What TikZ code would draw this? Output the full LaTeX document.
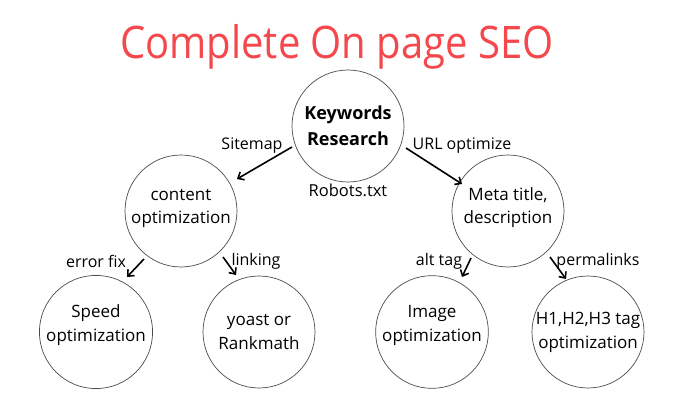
\documentclass[tikz,border=0pt]{standalone}
\usepackage{fontspec}
\setmainfont{Open Sans}
\usetikzlibrary{arrows.meta}
\definecolor{titlered}{RGB}{245,72,76}
\begin{document}
\begin{tikzpicture}[x=1pt,y=-1pt,
  bubble/.style={draw=black!70,line width=0.7pt,circle,minimum size=112pt,inner sep=0pt,align=center,font=\fontsize{17}{24}\selectfont},
  upper/.style={text depth=17pt},
  midup/.style={text depth=10pt},
  lbl/.style={font=\fontsize{16}{20}\selectfont,inner sep=0pt},
  arr/.style={line width=1.6pt,-{Straight Barb[length=5pt,width=9pt,line width=1.6pt]}}]
\path[use as bounding box,fill=white] (0,0) rectangle (680,409);
\node[font=\fontsize{40}{48}\selectfont,text=titlered,inner sep=0pt] (title) at (337,47) {\scalebox{1}[1.12]{Complete On page SEO}};
\node[bubble,font=\bfseries\fontsize{18}{26}\selectfont] (kw) at (348,126) {Keywords\\Research};
\node[bubble,midup,font=\fontsize{17}{23}\selectfont] (co) at (181,211) {content\\optimization};
\node[bubble,midup,font=\fontsize{17}{23}\selectfont] (mt) at (508,211) {Meta title,\\description};
\node[bubble,upper] (sp) at (96,332) {Speed\\optimization};
\node[bubble] (yo) at (259,332) {yoast or\\Rankmath};
\node[bubble,upper] (im) at (432,332) {Image\\optimization};
\node[bubble] (h1) at (588,332) {H1,H2,H3 tag\\optimization};
\node[lbl,font=\fontsize{16.5}{20}\selectfont] (rob) at (348,190) {Robots.txt};
\node[lbl] (site) at (252,146) {Sitemap};
\node[lbl] (url) at (462,146) {URL optimize};
\node[lbl] (err) at (96,261) {error fix};
\node[lbl] (lnk) at (256,261) {linking};
\node[lbl] (alt) at (439,261) {alt tag};
\node[lbl] (perm) at (598,261) {permalinks};
\coordinate (a1s) at (292,147); \coordinate (a1e) at (237,179);
\coordinate (a2s) at (406,148); \coordinate (a2e) at (462,184);
\coordinate (a3s) at (144,259); \coordinate (a3e) at (127,277);
\coordinate (a4s) at (223,257); \coordinate (a4e) at (236,275);
\coordinate (a5s) at (471,258); \coordinate (a5e) at (462,277);
\coordinate (a6s) at (550,257); \coordinate (a6e) at (566,279);
\draw[arr] (a1s) -- (a1e);
\draw[arr] (a2s) -- (a2e);
\draw[arr] (a3s) -- (a3e);
\draw[arr] (a4s) -- (a4e);
\draw[arr] (a5s) -- (a5e);
\draw[arr] (a6s) -- (a6e);
\end{tikzpicture}
\end{document}
